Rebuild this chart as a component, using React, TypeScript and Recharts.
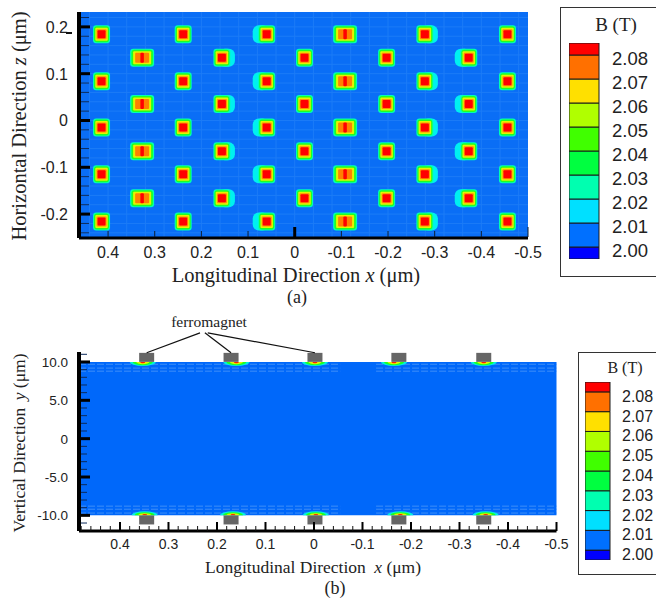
import {
  Bar,
  BarChart,
  CartesianGrid,
  ReferenceArea,
  ReferenceLine,
  Scatter,
  ScatterChart,
  XAxis,
  YAxis,
} from "recharts";

// panel (a): island positions
const oddRowX = [0.414, 0.239, 0.06, -0.108, -0.279, -0.456];
const evenRowX = [0.327, 0.156, -0.021, -0.197, -0.373];
const oddRowZ = [0.184, 0.084, -0.015, -0.115, -0.216];
const evenRowZ = [0.134, 0.035, -0.066, -0.166];
const oddRowKinds = ["narrow", "narrow", "haloLeft", "wide", "haloRight", "narrow"];
const evenRowKinds = ["wide", "haloRight", "narrow", "narrow", "haloLeft"];

// panel (b): ferromagnets and the field spots under them
const magnetX = [0.345, 0.171, -0.002, -0.175, -0.35];
const magnetTopY = 10.6;
const magnetBottomY = -10.6;
const spotTopX = [0.353, 0.16, -0.002, -0.165, -0.35];
const spotBottomX = [0.349, 0.167, -0.004, -0.178, -0.354];
const calloutX = [0.345, 0.171, -0.002];
const calloutTopX = [0.235, 0.225, 0.219];

// colour legend
const legendLabels = ["2.00", "2.01", "2.02", "2.03", "2.04", "2.05", "2.06", "2.07", "2.08"];
const legendTicks = [2.0, 2.01, 2.02, 2.03, 2.04, 2.05, 2.06, 2.07, 2.08];
const legendBands = [0.005, 0.01, 0.01, 0.01, 0.01, 0.01, 0.01, 0.01, 0.01, 0.005];
const legendColors = [
  "#0000ff",
  "#0070ff",
  "#00e0ff",
  "#00ffb0",
  "#00ff40",
  "#40ff00",
  "#b0ff00",
  "#ffe000",
  "#ff7000",
  "#ff0000",
];

// ticks
const xMajor = [0.4, 0.3, 0.2, 0.1, 0, -0.1, -0.2, -0.3, -0.4, -0.5];
const xMinor = [
  0.48, 0.46, 0.44, 0.42, 0.38, 0.36, 0.34, 0.32, 0.28, 0.26, 0.24, 0.22, 0.18, 0.16, 0.14, 0.12, 0.08, 0.06,
  0.04, 0.02, -0.02, -0.04, -0.06, -0.08, -0.12, -0.14, -0.16, -0.18, -0.22, -0.24, -0.26, -0.28, -0.32, -0.34,
  -0.36, -0.38, -0.42, -0.44, -0.46, -0.48,
];
const zMajor = [0.2, 0.1, 0, -0.1, -0.2];
const zMinor = [
  0.22, 0.18, 0.16, 0.14, 0.12, 0.08, 0.06, 0.04, 0.02, -0.02, -0.04, -0.06, -0.08, -0.12, -0.14, -0.16, -0.18,
  -0.22, -0.24,
];
const yMajor = [10, 5, 0, -5, -10];
const yMinor = [9, 8, 7, 6, 4, 3, 2, 1, -1, -2, -3, -4, -6, -7, -8, -9, -11, 11];
const yLabels: Record<string, string> = { "10": "10.0", "5": "5.0", "0": "0", "-5": "-5.0", "-10": "-10.0" };

// mesh lines
const meshX = [
  0.44, 0.4, 0.36, 0.32, 0.28, 0.24, 0.2, 0.16, 0.12, 0.08, 0.04, 0, -0.04, -0.08, -0.12, -0.16, -0.2, -0.24,
  -0.28, -0.32, -0.36, -0.4, -0.44, -0.48,
];
const meshZ = [
  0.22, 0.2, 0.18, 0.16, 0.14, 0.12, 0.1, 0.08, 0.06, 0.04, 0.02, 0, -0.02, -0.04, -0.06, -0.08, -0.1, -0.12,
  -0.14, -0.16, -0.18, -0.2, -0.22, -0.24,
];
const edgeMeshY = [9.7, 9.2, 8.8, -8.8, -9.2, -9.7];

const islands = [
  ...oddRowZ.flatMap((z) => oddRowX.map((x, i) => ({ x, z, kind: oddRowKinds[i] }))),
  ...evenRowZ.flatMap((z) => evenRowX.map((x, i) => ({ x, z, kind: evenRowKinds[i] }))),
];
const magnets = [
  ...magnetX.map((x) => ({ x, y: magnetTopY })),
  ...magnetX.map((x) => ({ x, y: magnetBottomY })),
];
const spots = [
  ...spotTopX.map((x) => ({ x, y: 10, dir: 1 })),
  ...spotBottomX.map((x) => ({ x, y: -10, dir: -1 })),
];
const legendRow: Record<string, number | string> = { name: "B", base: 1.995 };
legendBands.forEach((b, i) => {
  legendRow[`band${i}`] = b;
});

const SANS = "'Liberation Sans', Arial, sans-serif";
const SERIF = "'Liberation Serif', 'Times New Roman', serif";
const PLOT_BLUE = "#0a6ef6";

const RINGS = {
  narrow: [
    [17, 18, "#00ffb8"],
    [15, 16, "#20ff20"],
    [12.5, 13, "#e4f400"],
    [10, 10, "#ff9000"],
    [8, 8, "#ff0000"],
  ],
  wide: [
    [24, 18, "#00ffb8"],
    [21.5, 16, "#20ff20"],
    [18, 13, "#e4f400"],
    [14, 10, "#ff8000"],
    [3.5, 10, "#ff0000"],
  ],
} as const;

function IslandMark(props: any) {
  const { cx, cy, payload } = props;
  const kind: string = payload.kind;
  const rings = kind === "wide" ? RINGS.wide : RINGS.narrow;
  const halo = kind === "haloLeft" ? -6 : kind === "haloRight" ? 5 : 0;
  return (
    <g>
      {halo !== 0 && <rect x={cx + halo - 8} y={cy - 9} width={16} height={18} rx={6} fill="#00f0f0" />}
      {rings.map(([w, h, fill], i) => (
        <rect
          key={i}
          x={cx - (w as number) / 2}
          y={cy - (h as number) / 2}
          width={w as number}
          height={h as number}
          rx={i < 2 ? 3 : 1}
          fill={fill as string}
        />
      ))}
    </g>
  );
}

function MagnetMark(props: any) {
  return <rect x={props.cx - 7.5} y={props.cy - 4.5} width={15} height={9} fill="#666666" />;
}

function SpotMark(props: any) {
  const { cx, cy, payload } = props;
  const lens = (w: number, h: number, fill: string) => (
    <path
      d={`M${cx - w / 2} ${cy} A${w / 2} ${h} 0 0 ${payload.dir > 0 ? 0 : 1} ${cx + w / 2} ${cy} Z`}
      fill={fill}
    />
  );
  return (
    <g>
      {lens(26, 4, "#00f0e0")}
      {lens(20, 3.2, "#20ff20")}
      {lens(13, 2.2, "#e4f400")}
      {lens(5, 1.4, "#ff2000")}
    </g>
  );
}

function ZTick({ x, y, payload }: any) {
  const v = payload.value;
  if (!zMajor.includes(v)) {
    return <line x1={x + 2} x2={x + 10} y1={y} y2={y} stroke="#0c2a5a" strokeWidth={1} />;
  }
  return (
    <g>
      <line x1={x + 2} x2={x + 11} y1={y} y2={y} stroke="#000" strokeWidth={3} />
      <text x={x - 11} y={y + 6} textAnchor="end" fontFamily={SANS} fontSize={16} fill="#222">
        {String(v)}
      </text>
    </g>
  );
}

function XTickTop({ x, y, payload }: any) {
  const v = payload.value;
  const strong = v === 0;
  return (
    <g>
      <line
        x1={x}
        x2={x}
        y1={y - 1}
        y2={y - (strong || v === -0.5 ? 11 : 7)}
        stroke={strong ? "#000" : "#0c1c30"}
        strokeWidth={strong ? 3 : 1}
      />
      <text x={x} y={y + 20} textAnchor="middle" fontFamily={SANS} fontSize={16} fill="#222">
        {String(v)}
      </text>
    </g>
  );
}

function YTick({ x, y, payload }: any) {
  const v = payload.value;
  if (!yMajor.includes(v)) {
    return <line x1={x + 2} x2={x + 8} y1={y} y2={y} stroke="#0c2a5a" strokeWidth={1} />;
  }
  return (
    <g>
      <line x1={x + 2} x2={x + 11} y1={y} y2={y} stroke="#000" strokeWidth={3} />
      <text x={x - 11} y={y + 5} textAnchor="end" fontFamily={SANS} fontSize={13.5} fill="#222">
        {yLabels[String(v)]}
      </text>
    </g>
  );
}

function XTickBottom({ x, y, payload }: any) {
  const v = payload.value;
  if (!xMajor.includes(v)) {
    return <line x1={x} x2={x} y1={y} y2={y - 5} stroke="#111" strokeWidth={1} />;
  }
  return (
    <g>
      <line x1={x} x2={x} y1={y} y2={y - 9} stroke="#000" strokeWidth={2} />
      <text x={x} y={y + 18} textAnchor="middle" fontFamily={SANS} fontSize={14} fill="#222">
        {String(v)}
      </text>
    </g>
  );
}

function LegendTick({ x, y, payload, fontSize, dy, index }: any) {
  return (
    <text x={x} y={y + dy} fontFamily={SANS} fontSize={fontSize} fill="#222">
      {legendLabels[index] ?? payload.value}
    </text>
  );
}

function ColorLegend({
  left,
  top,
  barWidth,
  barHeight,
  labelGap,
  fontSize,
  dy,
}: {
  left: number;
  top: number;
  barWidth: number;
  barHeight: number;
  labelGap: number;
  fontSize: number;
  dy: number;
}) {
  return (
    <div style={{ position: "absolute", left, top }}>
      <BarChart
        width={barWidth + 70}
        height={barHeight + 14}
        data={[legendRow]}
        margin={{ top: 1, right: 0, bottom: 13, left: 0 }}
        barCategoryGap={0}
      >
        <XAxis dataKey="name" hide />
        <YAxis
          orientation="right"
          type="number"
          width={70}
          domain={[1.995, 2.085]}
          allowDataOverflow
          ticks={legendTicks}
          interval={0}
          axisLine={false}
          tickLine={false}
          tickSize={0}
          tickMargin={labelGap}
          tick={(p: any) => <LegendTick {...p} fontSize={fontSize} dy={dy} />}
        />
        <Bar dataKey="base" stackId="b" fill="none" isAnimationActive={false} />
        {legendColors.map((c, i) => (
          <Bar key={c} dataKey={`band${i}`} stackId="b" fill={c} stroke="#1a1a1a" strokeWidth={1} isAnimationActive={false} />
        ))}
      </BarChart>
    </div>
  );
}

export default function App() {
  return (
    <div
      style={{
        position: "absolute",
        left: 0,
        top: 0,
        width: 656,
        height: 600,
        overflow: "hidden",
        background: "#fff",
      }}
    >
      {/* panel (a) */}
      <div style={{ position: "absolute", left: 0, top: 0 }}>
        <ScatterChart width={656} height={290} margin={{ top: 12, right: 128, bottom: 22, left: 0 }}>
          <CartesianGrid
            fill={PLOT_BLUE}
            fillOpacity={1}
            stroke="#1c7cf7"
            strokeWidth={1}
            horizontalValues={meshZ}
            verticalValues={meshX}
          />
          <Scatter data={islands} shape={IslandMark} isAnimationActive={false} />
          <XAxis
            type="number"
            dataKey="x"
            reversed
            domain={[-0.5, 0.4623]}
            allowDataOverflow
            ticks={xMajor}
            interval={0}
            height={30}
            tickSize={0}
            tickMargin={0}
            tickLine={false}
            tick={XTickTop}
            axisLine={{ stroke: "#000", strokeWidth: 3 }}
          />
          <YAxis
            type="number"
            dataKey="z"
            domain={[-0.2511, 0.2318]}
            allowDataOverflow
            ticks={[...zMajor, ...zMinor]}
            interval={0}
            width={79}
            tickSize={0}
            tickMargin={0}
            tickLine={false}
            tick={ZTick}
            axisLine={{ stroke: "#000", strokeWidth: 4 }}
          />
        </ScatterChart>
      </div>

      {/* panel (b) */}
      <div style={{ position: "absolute", left: 0, top: 320 }}>
        <ScatterChart width={656} height={260} margin={{ top: 32, right: 99.5, bottom: 0, left: 0 }}>
          <XAxis
            type="number"
            dataKey="x"
            reversed
            domain={[-0.5, 0.4845]}
            allowDataOverflow
            ticks={[...xMajor, ...xMinor]}
            interval={0}
            height={49}
            tickSize={0}
            tickMargin={0}
            tickLine={false}
            tick={XTickBottom}
            axisLine={{ stroke: "#000", strokeWidth: 3 }}
          />
          <YAxis
            type="number"
            dataKey="y"
            domain={[-12.04, 11.3]}
            allowDataOverflow
            ticks={[...yMajor, ...yMinor]}
            interval={0}
            width={79}
            tickSize={0}
            tickMargin={0}
            tickLine={false}
            tick={YTick}
            axisLine={{ stroke: "#000", strokeWidth: 4 }}
          />
          <ReferenceArea x1={-0.5} x2={0.4845} y1={-10} y2={10} fill="#0068fa" fillOpacity={1} stroke="none" />
          {edgeMeshY.map((y) => (
            <ReferenceLine
              key={`l${y}`}
              segment={[
                { x: 0.4845, y },
                { x: -0.054, y },
              ]}
              stroke="#3d8ef8"
              strokeDasharray="7 2"
            />
          ))}
          {edgeMeshY.map((y) => (
            <ReferenceLine
              key={`r${y}`}
              segment={[
                { x: -0.128, y },
                { x: -0.5, y },
              ]}
              stroke="#3d8ef8"
              strokeDasharray="7 2"
            />
          ))}
          <Scatter data={spots} shape={SpotMark} isAnimationActive={false} />
          <Scatter data={magnets} shape={MagnetMark} isAnimationActive={false} />
        </ScatterChart>
      </div>

      {/* legend boxes */}
      <div style={{ position: "absolute", left: 560, top: 7, width: 120, height: 268, border: "1px solid #333" }} />
      <div style={{ position: "absolute", left: 578, top: 352, width: 120, height: 221, border: "1px solid #333" }} />
      <ColorLegend left={569} top={42} barWidth={30} barHeight={216} labelGap={13} fontSize={18.5} dy={10} />
      <ColorLegend left={585} top={381} barWidth={25} barHeight={178} labelGap={12} fontSize={16} dy={10} />

      {/* titles and captions */}
      <svg width={656} height={600} style={{ position: "absolute", left: 0, top: 0, pointerEvents: "none" }}>
        <g fontFamily={SERIF} fill="#222">
          <text transform="translate(26,126) rotate(-90)" textAnchor="middle" fontSize={20.5}>
            Horizontal Direction <tspan fontStyle="italic">z</tspan> (μm)
          </text>
          <text x={296} y={282} textAnchor="middle" fontSize={20.5}>
            Longitudinal Direction <tspan fontStyle="italic">x</tspan> (μm)
          </text>
          <text x={297} y={303} textAnchor="middle" fontSize={18}>
            (a)
          </text>
          <text x={616} y={31} textAnchor="middle" fontSize={19}>
            B (T)
          </text>
          <text x={209} y={327} textAnchor="middle" fontSize={15.5}>
            ferromagnet
          </text>
          <text transform="translate(25,443) rotate(-90)" textAnchor="middle" fontSize={17.5}>
            Vertical Direction{"  "}
            <tspan fontStyle="italic" dx={3}>
              y
            </tspan>{" "}
            (μm)
          </text>
          <text x={313} y={573} textAnchor="middle" fontSize={17.5}>
            Longitudinal Direction{" "}
            <tspan fontStyle="italic" dx={4}>
              x
            </tspan>{" "}
            (μm)
          </text>
          <text x={335} y={594} textAnchor="middle" fontSize={18}>
            (b)
          </text>
          <text x={625} y={373} textAnchor="middle" fontSize={16}>
            B (T)
          </text>
        </g>
        <rect x={66} y={32} width={6} height={2} fill="#111" />
      </svg>

      {/* callout lines from the label down to the magnets */}
      <div style={{ position: "absolute", left: 0, top: 320, pointerEvents: "none" }}>
        <ScatterChart width={656} height={260} margin={{ top: 32, right: 99.5, bottom: 49, left: 79 }}>
          <XAxis type="number" dataKey="x" reversed domain={[-0.5, 0.4845]} hide allowDataOverflow />
          <YAxis type="number" dataKey="y" domain={[-12.04, 11.3]} hide allowDataOverflow />
          {calloutX.map((x, i) => (
            <ReferenceLine
              key={x}
              ifOverflow="visible"
              segment={[
                { x, y: 11.2 },
                { x: calloutTopX[i], y: 13.8 },
              ]}
              stroke="#111"
              strokeWidth={1.2}
            />
          ))}
        </ScatterChart>
      </div>
    </div>
  );
}
